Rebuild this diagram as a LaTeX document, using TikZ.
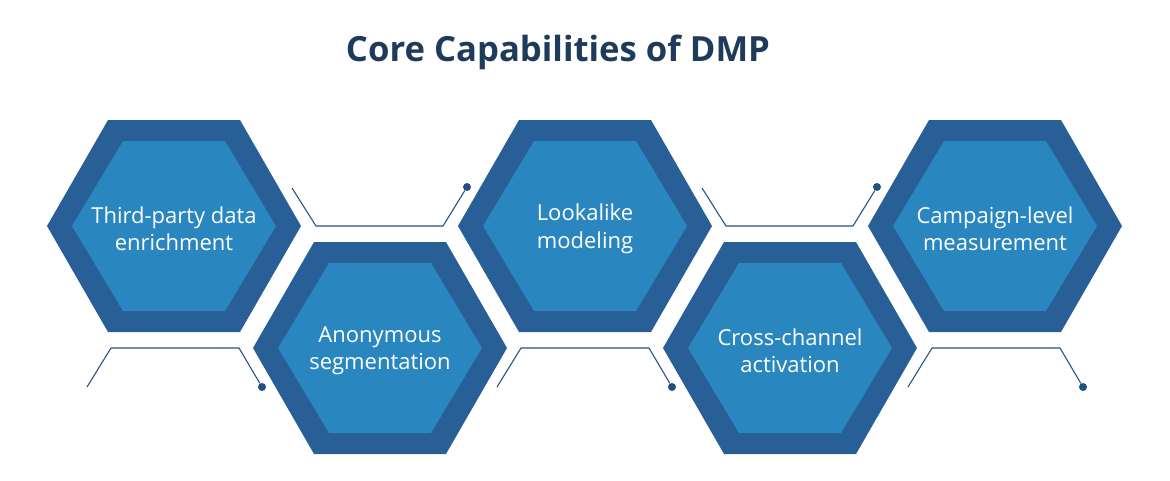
\documentclass[tikz,border=0pt]{standalone}
\usepackage{fontspec}
\setmainfont{Open Sans}
\definecolor{hexouter}{HTML}{285F97}
\definecolor{hexinner}{HTML}{2A86BF}
\definecolor{titleblue}{HTML}{1F3B5C}
\definecolor{linkblue}{HTML}{24507F}
\tikzstyle{hexlabel}=[text=white,align=center,font=\fontsize{16.5}{20.5}\selectfont]
\tikzstyle{link}=[draw=linkblue,line width=0.8pt]
\tikzstyle{linkdot}=[circle,fill=linkblue,inner sep=0pt,minimum size=6pt]
% outer + inner hexagon with its label
\newcommand{\hexcell}[3]{%
  \fill[hexouter] (#1) ++(-127,0) -- ++(61,-106) -- ++(132,0) -- ++(61,106)
      -- ++(-61,106) -- ++(-132,0) -- cycle;
  \fill[hexinner] (#1) ++(-102,0) -- ++(51,-85) -- ++(102,0) -- ++(51,85)
      -- ++(-51,85) -- ++(-102,0) -- cycle;
  \node[hexlabel] (#2) at ([yshift=-2]#1) {#3};}
\begin{document}
\begin{tikzpicture}[x=0.75pt,y=-0.75pt]
\useasboundingbox (0,0) rectangle (1170,480);
\node[text=titleblue,font=\fontsize{26}{30}\selectfont\bfseries] (title) at (558,52) {Core Capabilities of DMP};
% hexagons
\hexcell{174,226}{third}{Third-party data\\enrichment}
\hexcell{380,348}{anon}{Anonymous\\segmentation}
\hexcell{585,226}{look}{Lookalike\\modeling}
\hexcell{790,348}{cross}{Cross-channel\\activation}
\hexcell{995,226}{camp}{Campaign-level\\measurement}
% upper links
\foreach \dx in {0,410}{
  \coordinate (ua) at (292+\dx,188);
  \node[linkdot] (ud) at (467+\dx,187) {};
  \draw[link] (ua) -- ++(24,38) -- ++(127,0) -- (ud);
}
% lower links
\foreach \dx in {0,410,821}{
  \coordinate (la) at (87+\dx,387);
  \node[linkdot] (ld) at (262+\dx,387) {};
  \draw[link] (la) -- ++(24,-39) -- ++(128,0) -- (ld);
}
\end{tikzpicture}
\end{document}
